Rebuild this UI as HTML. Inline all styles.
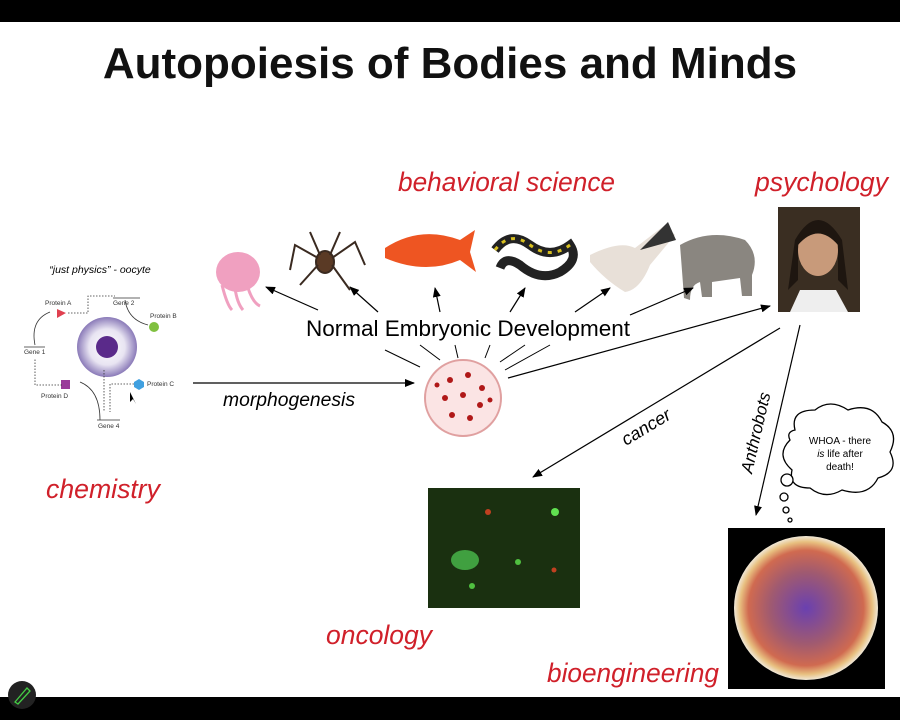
<!DOCTYPE html>
<html><head><meta charset="utf-8"><style>
html,body{margin:0;padding:0;background:#fff}
svg{display:block}
text{font-family:"Liberation Sans",sans-serif}
.red{fill:#d0202a;font-style:italic;font-size:26.5px}
</style></head><body>
<svg width="900" height="720" viewBox="0 0 900 720" xmlns="http://www.w3.org/2000/svg">
<defs>
<marker id="ah" markerWidth="10" markerHeight="8" refX="9" refY="4" orient="auto" markerUnits="userSpaceOnUse"><path d="M0,0 L10,4 L0,8 Z" fill="#000"/></marker>
<radialGradient id="cell" cx="50%" cy="50%" r="50%"><stop offset="0" stop-color="#fff"/><stop offset="0.6" stop-color="#e8e4f2"/><stop offset="1" stop-color="#8a7ab8"/></radialGradient>
<radialGradient id="anth" cx="50%" cy="50%" r="50%"><stop offset="0" stop-color="#6a40b0"/><stop offset="0.5" stop-color="#a05a70"/><stop offset="0.8" stop-color="#d06a50"/><stop offset="0.92" stop-color="#e8c080"/><stop offset="1" stop-color="#f0e8d8"/></radialGradient>
</defs>
<rect x="0" y="0" width="900" height="22" fill="#000"/>
<rect x="0" y="697" width="900" height="23" fill="#000"/>
<text x="450" y="78" text-anchor="middle" font-size="44" font-weight="bold" fill="#111">Autopoiesis of Bodies and Minds</text>
<text x="398" y="191" class="red" textLength="217" lengthAdjust="spacingAndGlyphs">behavioral science</text>
<text x="755" y="191" class="red" textLength="133" lengthAdjust="spacingAndGlyphs">psychology</text>
<text x="46" y="498" class="red" textLength="114" lengthAdjust="spacingAndGlyphs">chemistry</text>
<text x="326" y="644" class="red" textLength="106" lengthAdjust="spacingAndGlyphs">oncology</text>
<text x="547" y="682" class="red" textLength="172" lengthAdjust="spacingAndGlyphs">bioengineering</text>

<rect x="778" y="207" width="82" height="105" fill="#3a2e22"/>
<ellipse cx="818" cy="250" rx="20" ry="26" fill="#c89a7a"/>
<path d="M790,312 L800,290 L836,290 L848,312Z" fill="#eee"/>
<path d="M795,240 Q818,200 842,240 L848,290 L838,280 L838,245 Q818,222 798,245 L798,280 L788,290Z" fill="#1e1610"/>

<ellipse cx="238" cy="272" rx="22" ry="20" fill="#f0a0c0"/>
<path d="M222,285 q5,20 10,25 M235,288 q2,15 8,22 M248,288 q5,15 12,18" stroke="#f0a0c0" stroke-width="3" fill="none"/>
<g stroke="#3a2a20" stroke-width="2" fill="none"><ellipse cx="325" cy="262" rx="9" ry="11" fill="#5a3a25"/>
<path d="M318,258 L295,245 L290,270 M318,265 L300,285 M332,258 L355,242 L365,265 M332,265 L350,290 M320,255 L310,232 M330,255 L340,232"/></g>
<path d="M385,248 Q420,225 460,240 L475,230 L470,252 L476,272 L460,260 Q425,275 385,258Z" fill="#ee5522"/>
<path d="M495,250 Q510,230 530,245 Q550,260 570,245 Q580,260 560,272 Q540,282 520,265 Q505,255 500,268" stroke="#222" stroke-width="9" fill="none"/>
<path d="M495,250 Q510,230 530,245 Q550,260 570,245" stroke="#d8c020" stroke-width="3" fill="none" stroke-dasharray="4 6"/>
<path d="M590,255 Q620,240 635,248 L665,225 L675,235 L650,265 Q640,290 625,292 Q605,280 590,262Z" fill="#e8e0d8"/>
<path d="M640,250 L668,222 L676,240Z" fill="#333"/>
<path d="M680,245 Q710,228 745,240 Q760,255 752,275 L752,296 L742,296 L740,278 L712,282 L712,297 L702,297 L700,282 Q690,285 690,300 L684,298 Q682,270 680,245Z" fill="#8a8680"/>

<text x="468" y="336" text-anchor="middle" font-size="22.5" fill="#000" textLength="324" lengthAdjust="spacingAndGlyphs">Normal Embryonic Development</text>

<g stroke="#000" stroke-width="1.2" fill="none" marker-end="url(#ah)">
<line x1="318" y1="310" x2="266" y2="287"/>
<line x1="378" y1="312" x2="350" y2="287"/>
<line x1="440" y1="312" x2="435" y2="288"/>
<line x1="510" y1="312" x2="525" y2="288"/>
<line x1="575" y1="312" x2="610" y2="288"/>
<line x1="630" y1="315" x2="693" y2="288"/>
<line x1="508" y1="378" x2="770" y2="306"/>
<line x1="193" y1="383" x2="414" y2="383"/>
<line x1="780" y1="328" x2="533" y2="477"/>
<line x1="800" y1="325" x2="756" y2="515"/>
</g>
<g stroke="#000" stroke-width="1" fill="none">
<line x1="385" y1="350" x2="420" y2="367"/><line x1="420" y1="345" x2="440" y2="360"/>
<line x1="455" y1="345" x2="458" y2="358"/><line x1="490" y1="345" x2="485" y2="358"/>
<line x1="525" y1="345" x2="500" y2="362"/><line x1="550" y1="345" x2="505" y2="370"/>
</g>
<circle cx="463" cy="398" r="38" fill="#fbe4e4" stroke="#e0a0a0" stroke-width="2"/>
<g fill="#b01818"><circle cx="450" cy="380" r="3"/><circle cx="468" cy="375" r="3"/><circle cx="482" cy="388" r="3"/><circle cx="445" cy="398" r="3"/><circle cx="463" cy="395" r="3"/><circle cx="480" cy="405" r="3"/><circle cx="452" cy="415" r="3"/><circle cx="470" cy="418" r="3"/><circle cx="437" cy="385" r="2.5"/><circle cx="490" cy="400" r="2.5"/></g>

<text x="223" y="406" font-size="19" font-style="italic" textLength="132" lengthAdjust="spacingAndGlyphs">morphogenesis</text>
<text x="0" y="0" font-size="18" font-style="italic" transform="translate(626,446) rotate(-31)">cancer</text>
<text x="0" y="0" font-size="17" font-style="italic" transform="translate(752,474) rotate(-77)">Anthrobots</text>

<text x="100" y="273" text-anchor="middle" font-size="10.5" font-style="italic">“just physics” - oocyte</text>
<circle cx="107" cy="347" r="30" fill="url(#cell)"/>
<circle cx="107" cy="347" r="11" fill="#5a2a8a"/>
<g font-size="6.5" fill="#333">
<text x="45" y="305">Protein A</text><text x="113" y="305">Gene 2</text><text x="150" y="318">Protein B</text>
<text x="24" y="354">Gene 1</text><text x="147" y="386">Protein C</text><text x="41" y="398">Protein D</text><text x="98" y="428">Gene 4</text></g>
<path d="M57,309 L66,313 L57,318Z" fill="#e04050"/>
<circle cx="154" cy="327" r="5" fill="#80c040"/>
<polygon points="139,379 144,382 144,387 139,390 134,387 134,382" fill="#40a0e0"/>
<rect x="61" y="380" width="9" height="9" fill="#9a3a9a"/>
<g stroke="#333" stroke-width="0.8" fill="none">
<path d="M68,313 L88,313 L88,296 L115,296" stroke-dasharray="1.5 1.5"/>
<path d="M35,345 Q30,320 50,312"/><path d="M125,300 Q128,320 148,325"/>
<path d="M62,385 L35,385 L35,358" stroke-dasharray="1.5 1.5"/>
<path d="M100,420 Q100,390 80,382"/>
<path d="M134,384 L110,384 L110,412 M104,370 L104,412" stroke-dasharray="1.5 1.5"/>
<line x1="24" y1="347" x2="45" y2="347"/><line x1="113" y1="298" x2="140" y2="298"/><line x1="97" y1="420" x2="120" y2="420"/>
</g>
<path d="M130,392 l0,10 l3,-3 l3,5 z" fill="#000"/>

<rect x="428" y="488" width="152" height="120" fill="#1a3010"/>
<ellipse cx="465" cy="560" rx="14" ry="10" fill="#40a040"/>
<circle cx="555" cy="512" r="4" fill="#60e050"/><circle cx="518" cy="562" r="3" fill="#50c040"/><circle cx="488" cy="512" r="3" fill="#c04020"/><circle cx="554" cy="570" r="2.5" fill="#c04020"/><circle cx="472" cy="586" r="3" fill="#50c040"/>

<rect x="728" y="528" width="157" height="161" fill="#000"/>
<circle cx="806" cy="608" r="72" fill="url(#anth)"/>

<path d="M795,430 Q790,410 815,410 Q830,398 848,410 Q872,402 882,422 Q900,432 890,452 Q900,472 878,478 Q868,498 842,490 Q825,500 810,488 Q788,488 792,470 Q775,455 790,440 Q786,432 795,430Z" fill="#fff" stroke="#000" stroke-width="1.3"/>
<text x="840" y="444" text-anchor="middle" font-size="10">WHOA - there</text>
<text x="840" y="457" text-anchor="middle" font-size="10"><tspan font-style="italic">is</tspan> life after</text>
<text x="840" y="470" text-anchor="middle" font-size="10">death!</text>
<g fill="#fff" stroke="#000" stroke-width="1.3"><circle cx="787" cy="480" r="6"/><circle cx="784" cy="497" r="4"/><circle cx="786" cy="510" r="3"/><circle cx="790" cy="520" r="2"/></g>

<circle cx="22" cy="695" r="14" fill="#222"/>
<path d="M15,702 L27,688 L30,691 L18,704Z" stroke="#4c4" fill="none" stroke-width="1.3"/>
</svg>
</body></html>
